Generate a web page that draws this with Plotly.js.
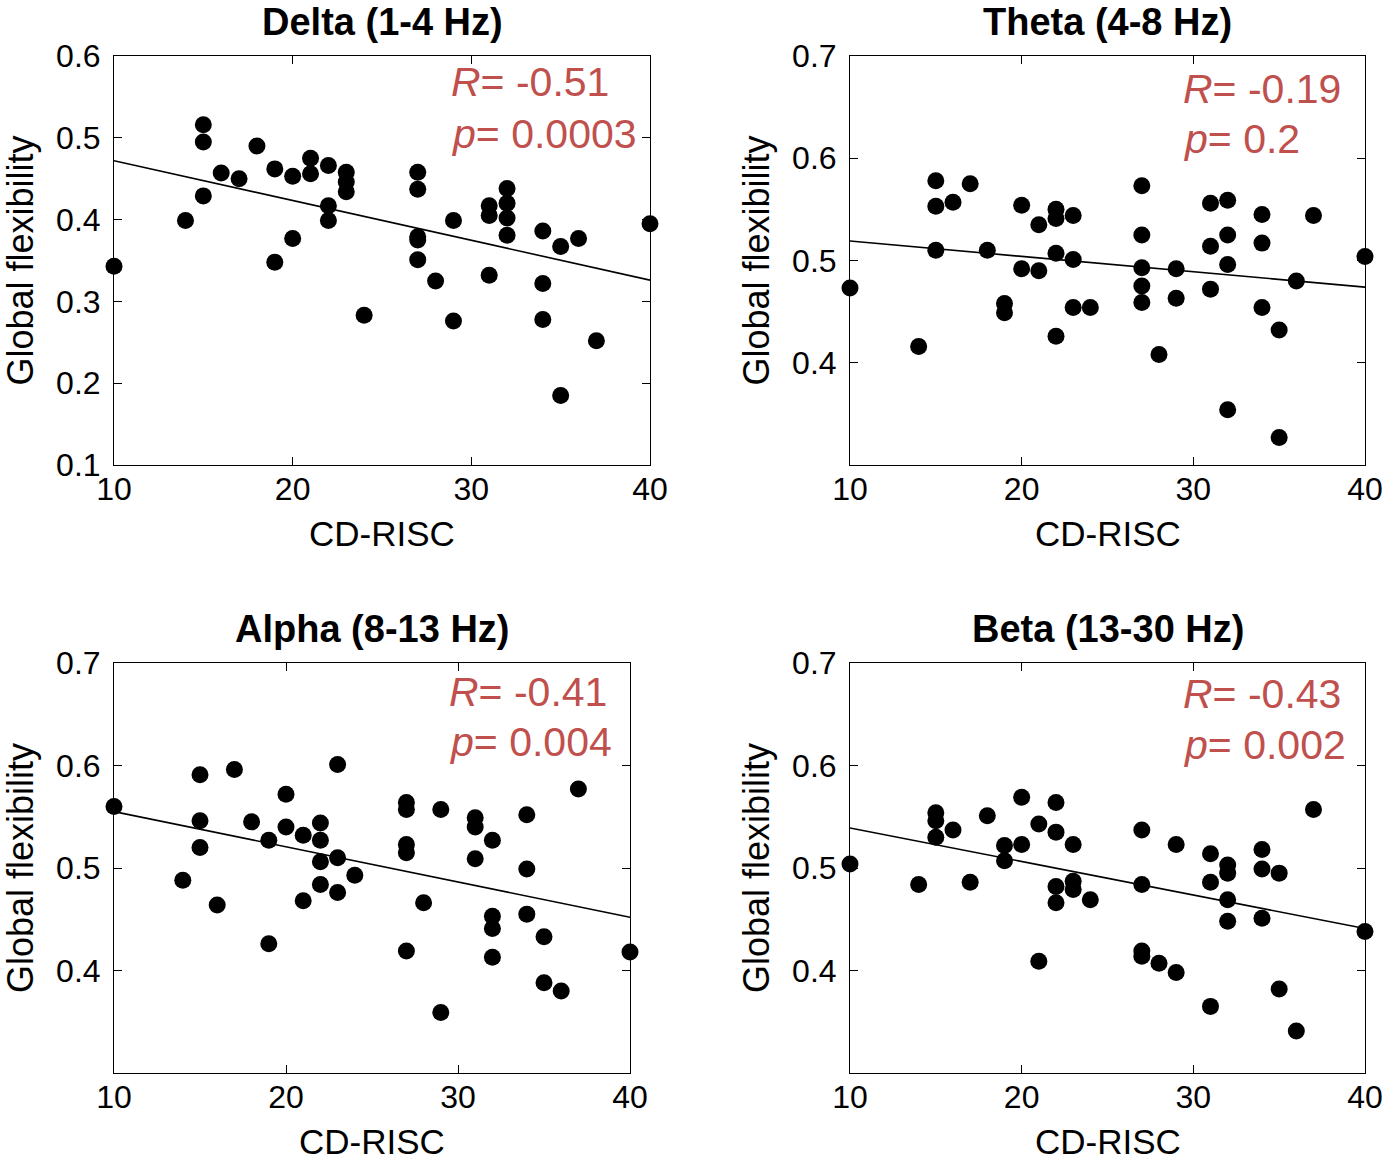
<!DOCTYPE html>
<html>
<head>
<meta charset="utf-8">
<script src="https://cdn.plot.ly/plotly-3.0.1.min.js"></script>
<style>html,body{margin:0;padding:0;background:#fff;}</style>
</head>
<body>
<div id="chart" style="width:1387px;height:1160px;"></div>
<script>
// ---------------- DATA ----------------
const xTickVals = [10, 20, 30, 40];
const yTicksDelta = [0.1, 0.2, 0.3, 0.4, 0.5, 0.6];
const yTicksOther = [0.4, 0.5, 0.6, 0.7];

const panelTitles = ["Delta (1-4 Hz)", "Theta (4-8 Hz)", "Alpha (8-13 Hz)", "Beta (13-30 Hz)"];
const rValues = ["-0.51", "-0.19", "-0.41", "-0.43"];
const pValues = ["0.0003", "0.2", "0.004", "0.002"];
const xLabel = "CD-RISC";
const yLabel = "Global flexibility";

const deltaX = [10,14,15,15,15,16,17,18,19,19,20,20,21,21,22,22,22,23,23,23,24,27,27,27,27,27,28,29,29,31,31,31,32,32,32,32,34,34,34,35,35,36,37,40];
const deltaY = [0.343,0.399,0.516,0.495,0.429,0.457,0.450,0.490,0.462,0.348,0.453,0.377,0.475,0.456,0.466,0.417,0.399,0.458,0.446,0.434,0.283,0.458,0.437,0.379,0.375,0.351,0.325,0.399,0.276,0.417,0.405,0.332,0.438,0.420,0.402,0.381,0.386,0.322,0.278,0.367,0.185,0.377,0.252,0.395];
const deltaFitX = [10, 40];
const deltaFitY = [0.472, 0.326];

const thetaX = [10,14,15,15,15,16,17,18,19,19,20,20,21,21,22,22,22,22,23,23,23,24,27,27,27,27,27,28,29,29,31,31,31,32,32,32,32,34,34,34,35,35,36,37,40];
const thetaY = [0.473,0.416,0.578,0.553,0.510,0.557,0.575,0.510,0.458,0.449,0.554,0.492,0.535,0.490,0.550,0.541,0.507,0.426,0.544,0.501,0.454,0.454,0.573,0.525,0.493,0.475,0.459,0.408,0.492,0.463,0.556,0.514,0.472,0.559,0.525,0.496,0.354,0.545,0.517,0.454,0.432,0.327,0.480,0.544,0.504];
const thetaFitX = [10, 40];
const thetaFitY = [0.519, 0.474];

const alphaX = [10,14,15,15,15,16,17,18,19,19,20,20,21,21,22,22,22,22,23,23,23,24,27,27,27,27,27,28,29,29,31,31,31,32,32,32,32,34,34,34,35,35,36,37,40];
const alphaY = [0.560,0.488,0.591,0.546,0.520,0.464,0.596,0.545,0.527,0.426,0.572,0.540,0.532,0.468,0.544,0.527,0.506,0.484,0.601,0.510,0.476,0.493,0.564,0.557,0.523,0.515,0.419,0.466,0.557,0.359,0.549,0.540,0.509,0.527,0.453,0.441,0.413,0.552,0.499,0.455,0.433,0.388,0.380,0.577,0.418];
const alphaFitX = [10, 40];
const alphaFitY = [0.555, 0.452];

const betaX = [10,14,15,15,15,16,17,18,19,19,20,20,21,21,22,22,22,22,23,23,23,24,27,27,27,27,28,29,29,31,31,31,32,32,32,32,34,34,34,35,35,36,37,40];
const betaY = [0.504,0.484,0.554,0.546,0.530,0.537,0.486,0.551,0.522,0.507,0.569,0.523,0.543,0.409,0.564,0.535,0.482,0.466,0.523,0.487,0.479,0.469,0.537,0.484,0.419,0.414,0.407,0.523,0.398,0.514,0.486,0.365,0.503,0.495,0.469,0.448,0.518,0.499,0.451,0.495,0.382,0.341,0.557,0.438];
const betaFitX = [10, 40];
const betaFitY = [0.539, 0.441];

// ---------------- LAYOUT ----------------
const W = 1387, H = 1160;
const FONT = "'Liberation Sans', Arial, Helvetica, sans-serif";
const statColor = "#C0504D";
const fx = p => p / W;
const fy = p => 1 - p / H;

// plot boxes in pixels: [left, right, top, bottom]
const boxes = [
  [114, 650, 56, 465],
  [850, 1365, 56, 465],
  [114, 630, 663, 1073],
  [850, 1365, 663, 1073]
];
const statPos = [ [449, 82, 134], [1181, 89, 139], [447, 692, 742], [1181, 694, 745] ];

const series = [
  [deltaX, deltaY, deltaFitX, deltaFitY],
  [thetaX, thetaY, thetaFitX, thetaFitY],
  [alphaX, alphaY, alphaFitX, alphaFitY],
  [betaX, betaY, betaFitX, betaFitY]
];

const traces = [];
const layout = {
  width: W, height: H,
  margin: {l: 0, r: 0, t: 0, b: 0},
  paper_bgcolor: '#fff', plot_bgcolor: '#fff',
  showlegend: false,
  font: {family: FONT, color: '#000'},
  annotations: []
};

series.forEach((s, i) => {
  const n = i + 1;
  const xk = n === 1 ? 'x' : 'x' + n;
  const yk = n === 1 ? 'y' : 'y' + n;
  const b = boxes[i];
  traces.push({x: s[0], y: s[1], xaxis: xk, yaxis: yk, type: 'scatter', mode: 'markers',
    marker: {size: 17, color: '#000', symbol: 'circle'}, cliponaxis: false, hoverinfo: 'x+y'});
  traces.push({x: s[2], y: s[3], xaxis: xk, yaxis: yk, type: 'scatter', mode: 'lines',
    line: {color: '#000', width: 1.6}, hoverinfo: 'skip'});

  const common = {ticks: 'inside', ticklen: 8, tickwidth: 1, tickcolor: '#000',
    showline: true, linecolor: '#000', linewidth: 1, mirror: 'ticks',
    showgrid: false, zeroline: false, automargin: false, fixedrange: true,
    tickfont: {family: FONT, size: 32, color: '#000'}};
  layout['xaxis' + (n === 1 ? '' : n)] = Object.assign({}, common, {
    domain: [fx(b[0]), fx(b[1])], anchor: yk, range: [10, 40], tickvals: xTickVals,
    ticktext: xTickVals.map(String), ticklabelstandoff: -4});
  const yt = i === 0 ? yTicksDelta : yTicksOther;
  layout['yaxis' + (n === 1 ? '' : n)] = Object.assign({}, common, {
    domain: [fy(b[3]), fy(b[2])], anchor: xk,
    range: i === 0 ? [0.1, 0.6] : [0.3, 0.7], tickvals: yt,
    ticktext: yt.map(v => v.toFixed(1)), ticklabelstandoff: 6});

  const cx = (b[0] + b[1]) / 2;
  // panel title
  layout.annotations.push({xref: 'paper', yref: 'paper', x: fx(cx), y: fy(b[2] - 34),
    xanchor: 'center', yanchor: 'middle', showarrow: false,
    text: '<b>' + panelTitles[i] + '</b>', font: {family: FONT, size: 38, color: '#000'}});
  // x axis title
  layout.annotations.push({xref: 'paper', yref: 'paper', x: fx(cx), y: fy(b[3] + 68),
    xanchor: 'center', yanchor: 'middle', showarrow: false,
    text: xLabel, font: {family: FONT, size: 35, color: '#000'}});
  // y axis title
  layout.annotations.push({xref: 'paper', yref: 'paper', x: fx(b[0] - 94), y: fy((b[2] + b[3]) / 2),
    xanchor: 'center', yanchor: 'middle', showarrow: false, textangle: -90,
    text: yLabel, font: {family: FONT, size: 36, color: '#000'}});
  // stats
  const sp = statPos[i];
  layout.annotations.push({xref: 'paper', yref: 'paper', x: fx(sp[0]), y: fy(sp[1]),
    xanchor: 'left', yanchor: 'middle', showarrow: false,
    text: '<i>R</i>= ' + rValues[i], font: {family: FONT, size: 41, color: statColor}});
  layout.annotations.push({xref: 'paper', yref: 'paper', x: fx(sp[0]), y: fy(sp[2]),
    xanchor: 'left', yanchor: 'middle', showarrow: false,
    text: '<i>p</i>= ' + pValues[i], font: {family: FONT, size: 41, color: statColor}});
});

Plotly.newPlot('chart', traces, layout, {displayModeBar: false, staticPlot: true});
</script>
</body>
</html>
